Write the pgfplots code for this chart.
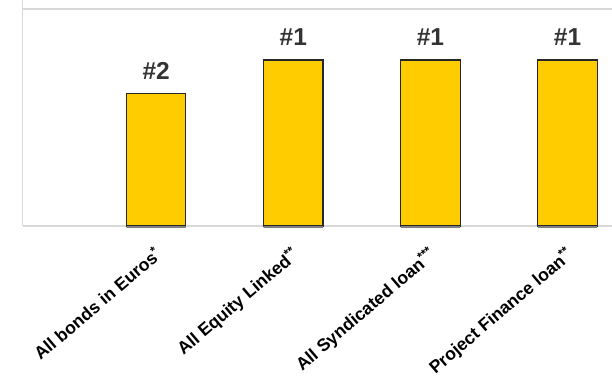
\documentclass[border=0pt]{standalone}
\usepackage{pgfplots}
\pgfplotsset{compat=1.18}
\usepackage{fontspec}
\setmainfont{Liberation Sans}
\definecolor{baryellow}{HTML}{FFCC00}
\definecolor{framegray}{HTML}{D9D9D9}
\definecolor{labelgray}{HTML}{333333}
\begin{document}
\begin{tikzpicture}
\path[use as bounding box] (0,0) rectangle (612bp,377bp);
\begin{axis}[
  at={(22.7bp,151bp)}, anchor=south west,
  scale only axis, width=589.3bp, height=217bp,
  xmin=0.026, xmax=4.324, ymin=0, ymax=6.536,
  axis line style={draw=none},
  ytick=\empty,
  xtick={1,2,3,4},
  xticklabels={All bonds in Euros\textsuperscript{*},All Equity Linked\textsuperscript{**},All Syndicated loan\textsuperscript{***},Project Finance loan\textsuperscript{**}},
  major tick length=0pt,
  xticklabel style={font=\fontsize{17.6bp}{20bp}\selectfont\bfseries, inner sep=0pt, yshift=-19bp, xshift=-3bp, rotate=40.5, anchor=north east},
  clip=false,
]
\draw[framegray, line width=1.3bp] (rel axis cs:0,0) -- (rel axis cs:1,0);
\draw[framegray, line width=1.3bp] (rel axis cs:0,1) -- (rel axis cs:1,1);
\draw[framegray, line width=1.3bp] (rel axis cs:0,0) -- ([yshift=10bp]rel axis cs:0,1);
\addplot[ybar, bar width=59.3bp, bar shift=0pt, fill=baryellow, draw=black!85, line width=1.1bp,
  point meta=explicit symbolic,
  nodes near coords,
  every node near coord/.style={anchor=base, yshift=14bp, text=labelgray, font=\fontsize{24.5bp}{26bp}\selectfont\bfseries}]
  coordinates {(1,4) [\#2] (2,5) [\#1] (3,5) [\#1] (4,5) [\#1]};
\addplot[ybar, bar width=59.3bp, bar shift=0pt, draw=gray, line width=1.6bp, yshift=-0.9bp]
  coordinates {(1,0) (2,0) (3,0) (4,0)};
\end{axis}
\end{tikzpicture}
\end{document}
